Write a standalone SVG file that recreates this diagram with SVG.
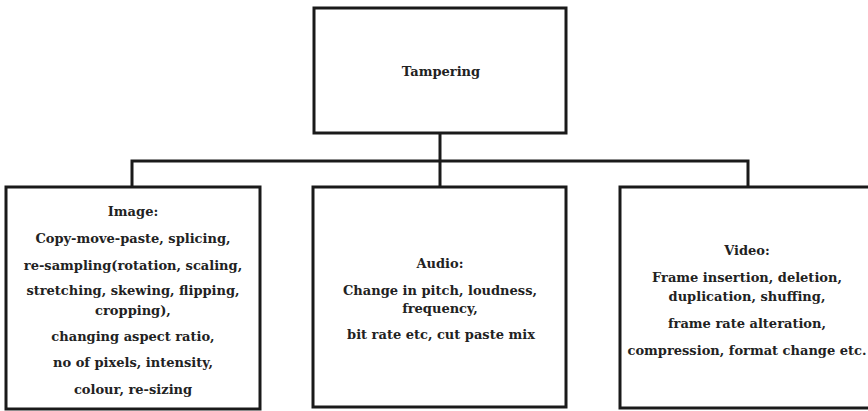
<svg xmlns="http://www.w3.org/2000/svg" width="868" height="411" viewBox="0 0 868 411">
  <style>
    .box { fill: #ffffff; stroke: #1a1a1a; stroke-width: 3; }
    .wire { fill: none; stroke: #1a1a1a; stroke-width: 3; }
    text { font-family: "DejaVu Serif", "Liberation Serif", serif; font-weight: bold; font-size: 13px; fill: #222222; text-anchor: middle; }
  </style>
  <rect width="868" height="411" fill="#ffffff"/>

  <!-- connectors: trunk from the root, bus bar, and drops to each category -->
  <g id="connectors">
    <path class="wire" d="M440 133 V187"/>
    <path class="wire" d="M132 187 V161 H748 V187"/>
  </g>

  <g id="tampering">
    <rect class="box" x="314" y="8" width="252" height="125"/>
    <text x="441" y="76">Tampering</text>
  </g>

  <g id="image">
    <rect class="box" x="6" y="187" width="254" height="222"/>
    <text x="133" y="215.5">Image:</text>
    <text x="133" y="243">Copy-move-paste, splicing,</text>
    <text x="133" y="269.5">re-sampling(rotation, scaling,</text>
    <text x="133" y="295">stretching, skewing, flipping,</text>
    <text x="133" y="314.5">cropping),</text>
    <text x="133" y="341">changing aspect ratio,</text>
    <text x="133" y="367">no of pixels, intensity,</text>
    <text x="133" y="393.5">colour, re-sizing</text>
  </g>

  <g id="audio">
    <rect class="box" x="313" y="187" width="253" height="220"/>
    <text x="440" y="267.5">Audio:</text>
    <text x="440" y="294.5">Change in pitch, loudness,</text>
    <text x="440" y="312.5">frequency,</text>
    <text x="441" y="338.5">bit rate etc, cut paste mix</text>
  </g>

  <g id="video">
    <rect class="box" x="620" y="187" width="256" height="221"/>
    <text x="747" y="254.5">Video:</text>
    <text x="747" y="281.5">Frame insertion, deletion,</text>
    <text x="747" y="300.5">duplication, shuffing,</text>
    <text x="747" y="327.5">frame rate alteration,</text>
    <text x="747" y="354.5">compression, format change etc.</text>
  </g>
</svg>
